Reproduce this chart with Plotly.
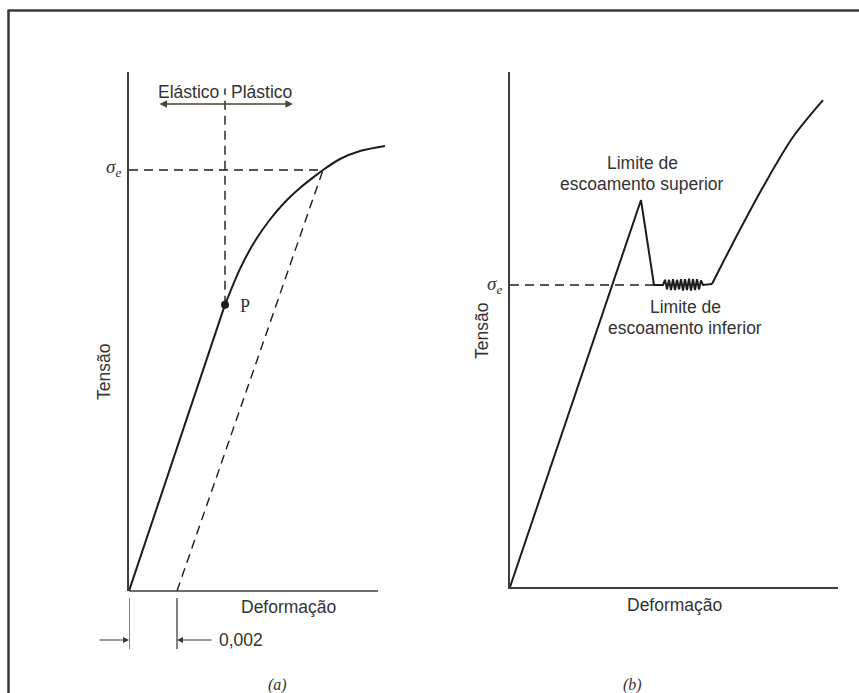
import plotly.graph_objects as go

W, H = 859, 693

# ---------- panel (a): curve with 0.002 offset yield ----------
strain_a_elastic = [0.0, 0.0040]
stress_a_elastic = [0.0, 204.0]
strain_a_plastic = [0.0040, 0.004625, 0.00525, 0.005875, 0.0065, 0.007125,
                    0.00775, 0.008083, 0.008792, 0.009625, 0.010667]
stress_a_plastic = [204.0, 229.5, 249.4, 264.7, 277.2, 287.2,
                    295.7, 300.0, 307.8, 313.5, 317.1]
offset_a = 0.002            # offset of the parallel line
yield_a = 300.0             # sigma_e
yield_a_strain = 0.008083   # where the offset line meets the curve
p_strain, p_stress = 0.0040, 204.0   # proportional limit P
limit_top_a = 358.0         # top of the vertical dashed line through P
arrow_a_y = 347.0
arrow_a_x = [0.00121, 0.00683]
axis_a_end = 0.010375

# ---------- panel (b): upper / lower yield point ----------
strain_b_yield = [0.0, 0.0262, 0.0288,
                  0.0306, 0.0310, 0.0314, 0.0318, 0.0322, 0.0326, 0.0330, 0.0334,
                  0.0338, 0.0342, 0.0346, 0.0350, 0.0354, 0.0358, 0.0362, 0.0366,
                  0.0370, 0.0374, 0.0378, 0.0382, 0.0386, 0.0404]
stress_b_yield = [0.0, 322.5, 251.7,
                  251.7, 256.0, 248.0, 256.0, 247.5, 256.5, 247.5, 256.0,
                  248.0, 256.5, 247.0, 256.5, 247.5, 257.0, 247.0, 256.5,
                  247.5, 256.5, 248.0, 255.5, 251.7, 252.5]
strain_b_hardening = [0.0404, 0.0446, 0.0506, 0.0566, 0.0626]
stress_b_hardening = [252.5, 286.7, 333.3, 375.0, 405.8]
yield_b = 251.7
yield_b_strain = 0.0288

INK = "#1c1c1c"
AXIS = "#3c3c44"
TXT = "#333333"
ARROW_A = "#4a4632"
ARROW_DIM = "#2e3c3a"
SANS = "Liberation Sans, Arial, sans-serif"
SERIF = "Liberation Serif, DejaVu Serif, serif"
DASH = "9px,6px"


def pxx(x):
    return x / W


def pxy(y):
    return 1 - y / H


fig = go.Figure()

# panel (a) traces
fig.add_trace(go.Scatter(x=strain_a_elastic, y=stress_a_elastic, mode="lines",
                         line=dict(color=INK, width=2), xaxis="x", yaxis="y"))
fig.add_trace(go.Scatter(x=strain_a_plastic, y=stress_a_plastic, mode="lines",
                         line=dict(color=INK, width=2, shape="spline", smoothing=0.8),
                         xaxis="x", yaxis="y"))
fig.add_trace(go.Scatter(x=[0, yield_a_strain], y=[yield_a, yield_a], mode="lines",
                         line=dict(color=INK, width=1.4, dash=DASH), xaxis="x", yaxis="y"))
fig.add_trace(go.Scatter(x=[offset_a, yield_a_strain], y=[0, yield_a], mode="lines",
                         line=dict(color=INK, width=1.4, dash=DASH), xaxis="x", yaxis="y"))
fig.add_trace(go.Scatter(x=[p_strain, p_strain], y=[p_stress, limit_top_a], mode="lines",
                         line=dict(color=INK, width=1.4, dash=DASH), xaxis="x", yaxis="y"))
fig.add_trace(go.Scatter(x=[p_strain], y=[p_stress], mode="markers",
                         marker=dict(color=INK, size=8), xaxis="x", yaxis="y"))

# panel (b) traces
fig.add_trace(go.Scatter(x=strain_b_yield, y=stress_b_yield, mode="lines",
                         line=dict(color=INK, width=2), xaxis="x2", yaxis="y2"))
fig.add_trace(go.Scatter(x=strain_b_hardening, y=stress_b_hardening, mode="lines",
                         line=dict(color=INK, width=2, shape="spline", smoothing=0.9),
                         xaxis="x2", yaxis="y2"))
fig.add_trace(go.Scatter(x=[0, yield_b_strain], y=[yield_b, yield_b], mode="lines",
                         line=dict(color=INK, width=1.4, dash=DASH), xaxis="x2", yaxis="y2"))

hidden = dict(showgrid=False, zeroline=False, showticklabels=False, ticks="")

fig.update_layout(
    width=W, height=H,
    margin=dict(l=0, r=0, t=0, b=0),
    paper_bgcolor="white", plot_bgcolor="rgba(0,0,0,0)",
    showlegend=False,
    xaxis=dict(domain=[pxx(129), pxx(392)], range=[0, 0.010958],
               showline=False, **hidden),
    yaxis=dict(domain=[pxy(591), pxy(72)], range=[0, 369.8],
               showline=True, linecolor=AXIS, linewidth=1.6, **hidden),
    xaxis2=dict(domain=[pxx(510), pxx(838)], range=[0, 0.0656], anchor="y2",
                showline=True, linecolor=AXIS, linewidth=1.6, **hidden),
    yaxis2=dict(domain=[pxy(587), pxy(72)], range=[0, 429.2], anchor="x2",
                showline=True, linecolor=AXIS, linewidth=1.6, **hidden),
)

shapes = [
    # frame (top and left edges)
    dict(type="line", xref="paper", yref="paper", x0=pxx(8.5), x1=pxx(8.5),
         y0=0, y1=pxy(10.5), line=dict(color="#3a3a3a", width=2.5)),
    dict(type="line", xref="paper", yref="paper", x0=pxx(7.5), x1=1,
         y0=pxy(10.5), y1=pxy(10.5), line=dict(color="#3a3a3a", width=2.5)),
    # strain axis of panel (a)
    dict(type="line", xref="x", yref="paper", x0=0, x1=axis_a_end,
         y0=pxy(591), y1=pxy(591), line=dict(color=AXIS, width=1.6)),
    # extension lines of the 0.002 dimension
    dict(type="line", xref="x", yref="paper", x0=0, x1=0,
         y0=pxy(598), y1=pxy(649), line=dict(color=INK, width=1.1)),
    dict(type="line", xref="x", yref="paper", x0=offset_a, x1=offset_a,
         y0=pxy(598), y1=pxy(649), line=dict(color=INK, width=1.1)),
]
fig.update_layout(shapes=shapes)

ann = []


def label(text, x, y, size=17.5, xref="paper", yref="paper", family=SANS,
          xanchor="center", yanchor="middle", angle=0, color=TXT):
    ann.append(dict(text=text, x=x, y=y, xref=xref, yref=yref, showarrow=False,
                    font=dict(family=family, size=size, color=color),
                    xanchor=xanchor, yanchor=yanchor, textangle=angle))


# panel (a) texts
label("Elástico", 0.00248, 355.5, xref="x", yref="y")
label("Plástico", 0.00552, 355.5, xref="x", yref="y")
label("<i>σ<sub>e</sub></i>", pxx(113), pxy(168), size=19, family=SERIF)
label("P", 0.00455, p_stress - 1, size=18, xref="x", yref="y", family=SERIF,
      xanchor="left")
label("Tensão", pxx(104), pxy(372), angle=-90)
label("Deformação", pxx(288), pxy(607))
label("0,002", 0.00367, pxy(640), xref="x", xanchor="left")
label("<i>(a)</i>", pxx(277), pxy(685), size=16, family=SERIF)

# panel (b) texts
label("<i>σ<sub>e</sub></i>", pxx(494), pxy(285), size=19, family=SERIF)
label("Limite de", pxx(642), pxy(163))
label("escoamento superior", pxx(642), pxy(184))
label("Limite de", pxx(685), pxy(307))
label("escoamento inferior", pxx(685), pxy(328))
label("Tensão", pxx(482), pxy(331), angle=-90)
label("Deformação", pxx(674), pxy(605))
label("<i>(b)</i>", pxx(632), pxy(685), size=16, family=SERIF)

# Elástico / Plástico double arrow
ann.append(dict(x=arrow_a_x[1], y=arrow_a_y, ax=arrow_a_x[0], ay=arrow_a_y,
                xref="x", yref="y", axref="x", ayref="y", text="",
                showarrow=True, arrowside="end+start", arrowhead=2,
                startarrowhead=2, arrowsize=1, startarrowsize=1,
                arrowwidth=1.5, arrowcolor=ARROW_A))
# 0.002 dimension arrows
ann.append(dict(x=0, y=pxy(640), xref="x", yref="paper", ax=-31, ay=0,
                text="", showarrow=True, arrowhead=2, arrowsize=1,
                arrowwidth=1.2, arrowcolor=ARROW_DIM))
ann.append(dict(x=offset_a, y=pxy(640), xref="x", yref="paper", ax=36, ay=0,
                text="", showarrow=True, arrowhead=2, arrowsize=1,
                arrowwidth=1.2, arrowcolor=ARROW_DIM))

fig.update_layout(annotations=ann)

fig.write_html("out.html")
